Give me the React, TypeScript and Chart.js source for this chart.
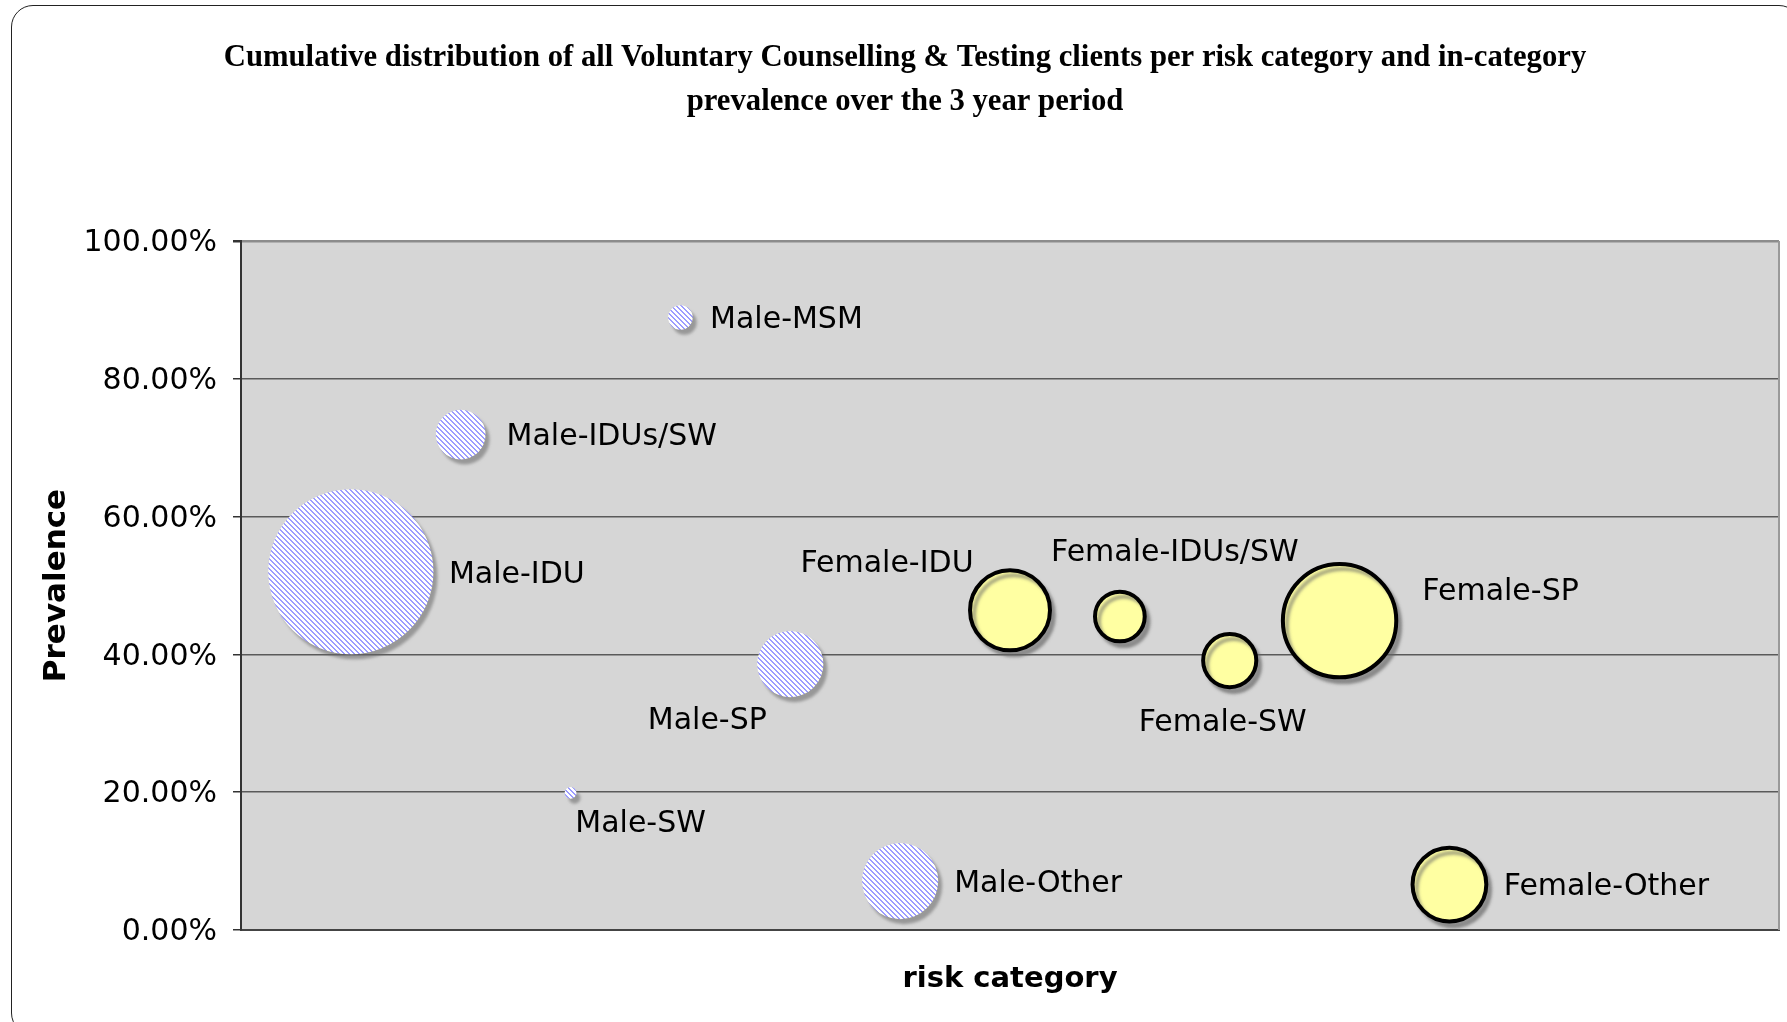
import React, { useEffect, useRef } from 'react';
import { Chart, registerables } from 'chart.js';

Chart.register(...registerables);

// ---- data ----
const maleCategories = ['Male-IDU', 'Male-IDUs/SW', 'Male-SW', 'Male-MSM', 'Male-SP', 'Male-Other'];
const maleX = [1, 2, 3, 4, 5, 6];
const malePrevalence = [52.0, 71.9, 19.9, 88.9, 38.6, 7.1];
const maleShare = [38.6, 3.5, 0.2, 0.85, 6.2, 8.2];

const femaleCategories = ['Female-IDU', 'Female-IDUs/SW', 'Female-SW', 'Female-SP', 'Female-Other'];
const femaleX = [7, 8, 9, 10, 11];
const femalePrevalence = [46.4, 45.5, 39.1, 44.9, 6.6];
const femaleShare = [9.05, 3.5, 4.0, 18.2, 7.7];

const yTickValues = [0, 20, 40, 60, 80, 100];
const titleLines = [
  'Cumulative distribution of all Voluntary Counselling & Testing clients per risk category and in-category',
  'prevalence over the 3 year period',
];
const xAxisTitle = 'risk category';
const yAxisTitle = 'Prevalence';

// ---- layout (label placement relative to bubble centre, px) ----
const maleLabelOffsets = [
  [166, 3], [151, 3], [70, 31], [106, 3], [-83, 57], [138, 3],
];
const femaleLabelOffsets = [
  [-123, -46], [55, -63], [-7, 63], [161, -28], [157, 3],
];
const BUBBLE_SCALE = 13.29;

function makeHatch(): CanvasPattern | string {
  const c = document.createElement('canvas');
  const n = 5;
  c.width = n;
  c.height = n;
  const g = c.getContext('2d');
  if (!g) return '#b0b0ff';
  g.fillStyle = '#ffffff';
  g.fillRect(0, 0, n, n);
  g.fillStyle = '#9c9cff';
  for (let y = 0; y < n; y++) {
    for (let x = 0; x < n; x++) {
      if (((x - y) % n + n) % n < 2) g.fillRect(x, y, 1, 1);
    }
  }
  return g.createPattern(c, 'repeat') || '#b0b0ff';
}

export default function App() {
  const ref = useRef<HTMLCanvasElement | null>(null);

  useEffect(() => {
    const canvas = ref.current;
    if (!canvas) return;
    const hatch = makeHatch();

    const maleData = maleX.map((x, i) => ({ x, y: malePrevalence[i], r: BUBBLE_SCALE * Math.sqrt(maleShare[i]) }));
    const femaleData = femaleX.map((x, i) => ({ x, y: femalePrevalence[i], r: BUBBLE_SCALE * Math.sqrt(femaleShare[i]) }));

    const bgPlugin = {
      id: 'plotBg',
      beforeDraw(chart: any) {
        const { ctx, chartArea } = chart;
        ctx.save();
        ctx.fillStyle = '#d6d6d6';
        ctx.fillRect(chartArea.left, chartArea.top, chartArea.right - chartArea.left, chartArea.bottom - chartArea.top);
        ctx.restore();
      },
      afterDraw(chart: any) {
        const { ctx, chartArea } = chart;
        ctx.save();
        ctx.strokeStyle = '#9a9a9a';
        ctx.lineWidth = 2;
        ctx.beginPath();
        ctx.moveTo(chartArea.right, chartArea.top);
        ctx.lineTo(chartArea.right, chartArea.bottom);
        ctx.stroke();
        // title
        ctx.fillStyle = '#000';
        ctx.font = 'bold 30.7px "Liberation Serif"';
        ctx.textAlign = 'center';
        ctx.textBaseline = 'middle';
        ctx.fillText(titleLines[0], 905, 58.5);
        ctx.fillText(titleLines[1], 905, 102.5);
        ctx.restore();
      },
    };

    const shadowPlugin = {
      id: 'bubbleShadow',
      beforeDatasetDraw(chart: any) {
        const c = chart.ctx;
        c.save();
        c.shadowColor = 'rgba(100,100,100,0.55)';
        c.shadowOffsetX = 4;
        c.shadowOffsetY = 5;
        c.shadowBlur = 3;
      },
      afterDatasetDraw(chart: any) {
        chart.ctx.restore();
      },
    };

    const labelPlugin = {
      id: 'bubbleLabels',
      afterDatasetsDraw(chart: any) {
        const { ctx } = chart;
        ctx.save();
        ctx.fillStyle = '#000';
        ctx.font = '30px "DejaVu Sans"';
        ctx.textAlign = 'center';
        ctx.textBaseline = 'middle';
        const sets = [
          { names: maleCategories, offs: maleLabelOffsets },
          { names: femaleCategories, offs: femaleLabelOffsets },
        ];
        sets.forEach((s, di) => {
          const meta = chart.getDatasetMeta(di);
          meta.data.forEach((el: any, i: number) => {
            ctx.fillText(s.names[i], el.x + s.offs[i][0], el.y + s.offs[i][1]);
          });
        });
        ctx.restore();
      },
    };

    const chart = new Chart(canvas, {
      type: 'bubble',
      data: {
        datasets: [
          {
            label: 'Male',
            data: maleData,
            backgroundColor: hatch as any,
            borderWidth: 0,
            borderColor: 'rgba(0,0,0,0)',
          },
          {
            label: 'Female',
            data: femaleData,
            backgroundColor: '#ffffa2',
            borderColor: '#000000',
            borderWidth: 4,
          },
        ],
      },
      options: {
        responsive: false,
        animation: false,
        events: [],
        layout: { autoPadding: false, padding: { left: 0, right: 8, top: 241, bottom: 0 } },
        plugins: {
          legend: { display: false },
          tooltip: { enabled: false },
          title: { display: false },
        },
        scales: {
          x: {
            type: 'linear',
            min: 0,
            max: 14,
            ticks: { display: false },
            grid: { display: false, drawTicks: false },
            border: { display: true, color: '#444444', width: 2 },
            title: {
              display: true,
              text: xAxisTitle,
              color: '#000',
              font: { family: 'DejaVu Sans', size: 29, weight: 'bold' },
              padding: { top: 0, bottom: 25 },
            },
            afterFit(s: any) {
              s.height = 92;
            },
          },
          y: {
            type: 'linear',
            min: 0,
            max: 100,
            afterBuildTicks(s: any) {
              s.ticks = yTickValues.map((v) => ({ value: v }));
            },
            ticks: {
              color: '#000',
              padding: 16,
              labelOffset: 2.5,
              font: { family: 'DejaVu Sans', size: 30 },
              callback: (v: any) => Number(v).toFixed(2) + '%',
            },
            grid: {
              color: (c: any) => (c.tick && c.tick.value === 100 ? '#8c8c8c' : '#5a5a5a'),
              lineWidth: (c: any) => (c.tick && c.tick.value === 100 ? 2.5 : 1.5),
              tickColor: '#333333',
              tickLength: 8,
              drawOnChartArea: true,
            },
            border: { display: true, color: '#333333', width: 2 },
            title: {
              display: true,
              text: yAxisTitle,
              color: '#000',
              font: { family: 'DejaVu Sans', size: 31, weight: 'bold' },
              padding: { top: 38, bottom: 0 },
            },
            afterFit(s: any) {
              s.width = 241;
            },
          },
        },
      },
      plugins: [bgPlugin, shadowPlugin, labelPlugin],
    });

    return () => chart.destroy();
  }, []);

  return (
    <div
      style={{
        position: 'fixed',
        left: 0,
        top: 0,
        width: 1787,
        height: 1022,
        overflow: 'hidden',
        background: '#ffffff',
      }}
    >
      <div
        style={{
          position: 'absolute',
          left: 11,
          top: 5,
          width: 1790,
          height: 1030,
          border: '1.5px solid #222',
          borderRadius: 22,
          boxSizing: 'border-box',
        }}
      />
      <canvas
        ref={ref}
        width={1787}
        height={1022}
        style={{ position: 'absolute', left: 0, top: 0, width: 1787, height: 1022 }}
      />
    </div>
  );
}
